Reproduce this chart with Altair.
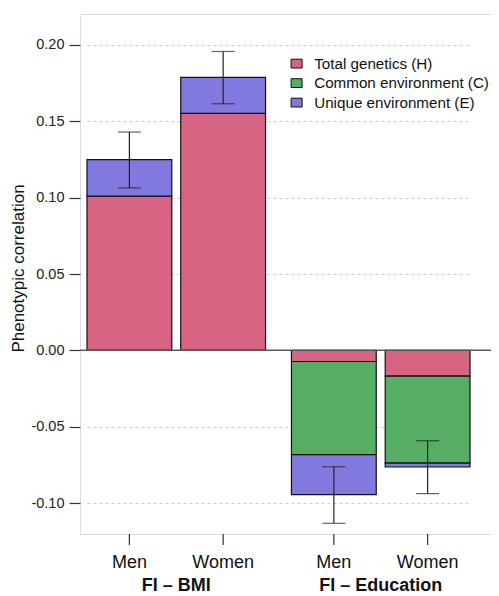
import altair as alt
import pandas as pd

# ---- data ----
groups = ["FI – BMI", "FI – BMI", "FI – Education", "FI – Education"]
sexes = ["Men", "Women", "Men", "Women"]
components = ["Total genetics (H)", "Common environment (C)", "Unique environment (E)"]
comp_colors = ["#D76483", "#55AE64", "#8179DD"]
genetics_H = [0.101, 0.155, -0.0072, -0.0168]
common_C = [0.0, 0.0, -0.0609, -0.0568]
unique_E = [0.0238, 0.0235, -0.0262, -0.0026]
err_low = [0.1063, 0.1613, -0.1130, -0.0936]
err_high = [0.1428, 0.1955, -0.0760, -0.0590]
y_ticks = [-0.10, -0.05, 0.00, 0.05, 0.10, 0.15, 0.20]
group_order = ["FI – BMI", "FI – Education"]
sex_order = ["Men", "Women"]

rows = []
for i in range(len(groups)):
    for k, vals in enumerate([genetics_H, common_C, unique_E]):
        rows.append({"group": groups[i], "sex": sexes[i], "component": components[k],
                     "idx": k, "value": vals[i]})
bars_df = pd.DataFrame(rows)
cats_df = pd.DataFrame({"group": groups, "sex": sexes, "lo": err_low, "hi": err_high})
grp_df = pd.DataFrame({"group": group_order})

FONT = "Liberation Sans"
W, H = 411, 520

y_scale = alt.Scale(domain=[-0.12, 0.22], nice=False, zero=False)
y_axis = alt.Axis(
    values=y_ticks,
    labelExpr="datum.value < 0 ? '-' + format(-datum.value, '.2f') : format(datum.value, '.2f')",
    labelFontSize=14.5, labelColor="#222", labelPadding=5,
    tickSize=11, tickColor="#333", tickWidth=1.2,
    domain=False,
    grid=True, gridDash=[3, 3], gridColor="#cfcfcf", gridWidth=1,
    title="Phenotypic correlation", titleFontSize=17, titleFontWeight="normal",
    titleColor="#111", titleX=-57, titleY=254, titleAngle=-90, titleAlign="center",
    titleBaseline="alphabetic",
)
x_scale = alt.Scale(domain=group_order, range=[7, 390], paddingInner=26 / 205, paddingOuter=0)
xo_scale = alt.Scale(domain=sex_order, paddingInner=9 / 94, paddingOuter=0)

X = alt.X("group:N", scale=x_scale, axis=None)
XO = alt.XOffset("sex:N", scale=xo_scale)

bars = alt.Chart(bars_df).mark_bar(stroke="#111", strokeWidth=1.2, opacity=1).encode(
    x=X, xOffset=XO,
    y=alt.Y("value:Q", stack="zero", scale=y_scale, axis=y_axis),
    color=alt.Color("component:N",
                    scale=alt.Scale(domain=components, range=comp_colors),
                    legend=alt.Legend(
                        title=None, orient="none", legendX=209, legendY=42,
                        labelFontSize=15.2, labelColor="#111", labelFont=FONT, labelLimit=0,
                        symbolType="M-1,-0.8H1V0.8H-1Z", symbolSize=121,
                        symbolStrokeColor="#111", symbolStrokeWidth=1, symbolOpacity=1,
                        labelOffset=10, rowPadding=3.5, padding=0)),
    order=alt.Order("idx:Q"),
)

zero_line = alt.Chart(grp_df).mark_rule(color="#555", strokeWidth=1.2).encode(
    y=alt.Y(datum=0, scale=y_scale, axis=y_axis),
)

err_rule = alt.Chart(cats_df).mark_rule(color="#222", strokeWidth=1.2).encode(
    x=X, xOffset=XO,
    y=alt.Y("lo:Q", scale=y_scale, axis=y_axis), y2="hi:Q",
)
cap_lo = alt.Chart(cats_df).mark_tick(color="#222", size=23, thickness=1.2).encode(
    x=X, xOffset=XO, y=alt.Y("lo:Q", scale=y_scale, axis=y_axis),
)
cap_hi = alt.Chart(cats_df).mark_tick(color="#222", size=23, thickness=1.2).encode(
    x=X, xOffset=XO, y=alt.Y("hi:Q", scale=y_scale, axis=y_axis),
)

x_ticks = alt.Chart(cats_df).mark_rule(color="#333", strokeWidth=1.2).encode(
    x=X, xOffset=XO, y=alt.value(H), y2=alt.value(H + 11),
)
sex_labels = alt.Chart(cats_df).mark_text(
    fontSize=18, font=FONT, color="#111", baseline="alphabetic", align="center"
).encode(x=X, xOffset=XO, y=alt.value(H + 34), text="sex:N")
grp_labels = alt.Chart(grp_df).mark_text(
    fontSize=18, font=FONT, fontWeight="bold", color="#111", baseline="alphabetic", align="center"
).encode(x=X, y=alt.value(H + 57), text="group:N")

chart = alt.layer(
    bars, zero_line, err_rule, cap_lo, cap_hi, x_ticks, sex_labels, grp_labels
).properties(
    width=W, height=H,
    autosize=alt.AutoSizeParams(type="none"),
    padding={"left": 72, "top": 6, "right": 0, "bottom": 62},
).configure_view(
    stroke="#333", strokeWidth=1.3
).configure(
    font=FONT
)

chart.save("out.html", embed_options={"renderer": "svg", "actions": False})
